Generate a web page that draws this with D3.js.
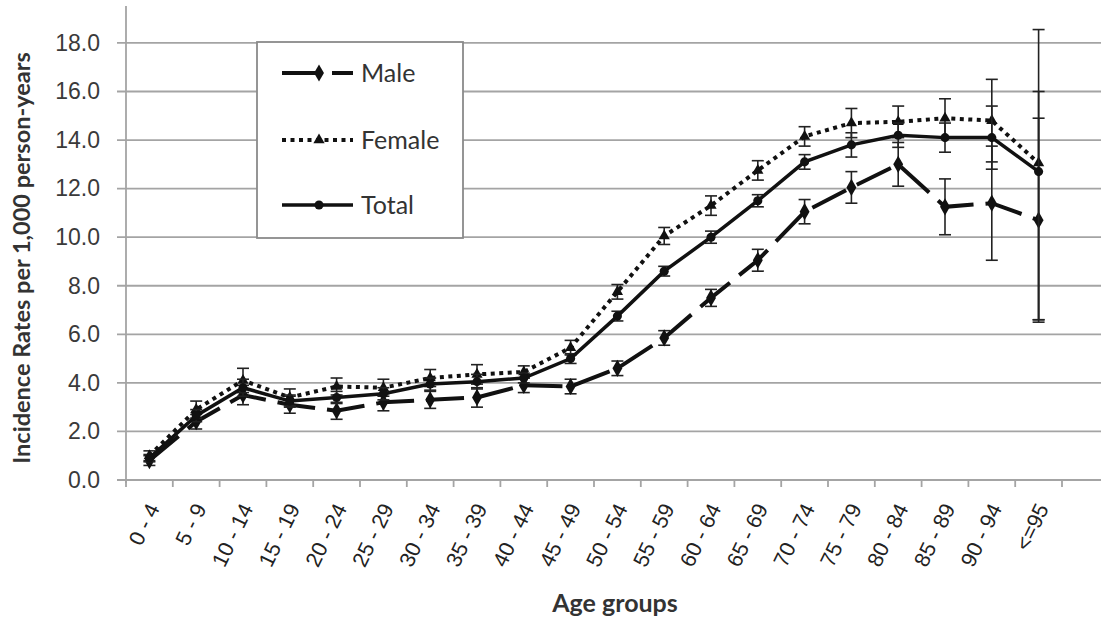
<!DOCTYPE html>
<html>
<head>
<meta charset="utf-8">
<script src="https://cdn.jsdelivr.net/npm/d3@7"></script>
<style>
  body { margin: 0; background: #fff; }
  svg { display: block; font-family: Lato, "Open Sans", sans-serif; }
</style>
</head>
<body>
<svg class="chart" width="1101" height="619"></svg>
<script>
const ageGroups = [`0 - 4`, `5 - 9`, `10 - 14`, `15 - 19`, `20 - 24`, `25 - 29`, `30 - 34`, `35 - 39`, `40 - 44`, `45 - 49`,
  `50 - 54`, `55 - 59`, `60 - 64`, `65 - 69`, `70 - 74`, `75 - 79`, `80 - 84`, `85 - 89`, `90 - 94`, `<=95`];

const maleRates = [0.8, 2.4, 3.5, 3.1, 2.85, 3.2, 3.3, 3.4, 3.9, 3.85, 4.6, 5.85, 7.5, 9.05, 11.05, 12.05, 13.0, 11.25, 11.4, 10.7];
const maleLow = [0.6, 2.1, 3.1, 2.75, 2.5, 2.85, 2.95, 3.0, 3.6, 3.55, 4.3, 5.55, 7.15, 8.6, 10.55, 11.4, 12.1, 10.1, 9.05, 6.5];
const maleHigh = [1.0, 2.7, 3.9, 3.45, 3.2, 3.55, 3.65, 3.8, 4.2, 4.15, 4.9, 6.15, 7.85, 9.5, 11.55, 12.7, 13.9, 12.4, 13.75, 14.9];

const femaleRates = [1.0, 2.9, 4.1, 3.4, 3.85, 3.8, 4.2, 4.35, 4.45, 5.45, 7.75, 10.05, 11.3, 12.75, 14.15, 14.7, 14.75, 14.9, 14.8, 13.05];
const femaleLow = [0.8, 2.55, 3.6, 3.05, 3.5, 3.45, 3.85, 3.95, 4.2, 5.15, 7.45, 9.7, 10.9, 12.35, 13.75, 14.1, 14.1, 14.1, 13.1, 6.6];
const femaleHigh = [1.2, 3.25, 4.6, 3.75, 4.2, 4.15, 4.55, 4.75, 4.7, 5.75, 8.05, 10.4, 11.7, 13.15, 14.55, 15.3, 15.4, 15.7, 16.5, 18.55];

const totalRates = [0.9, 2.65, 3.8, 3.25, 3.4, 3.55, 3.95, 4.05, 4.2, 5.0, 6.75, 8.6, 10.0, 11.5, 13.1, 13.8, 14.2, 14.1, 14.1, 12.7];
const totalLow = [0.75, 2.4, 3.45, 3.0, 3.15, 3.3, 3.7, 3.75, 4.0, 4.8, 6.55, 8.4, 9.75, 11.25, 12.8, 13.3, 13.7, 13.5, 12.8, 6.6];
const totalHigh = [1.05, 2.9, 4.15, 3.5, 3.65, 3.8, 4.2, 4.35, 4.4, 5.2, 6.95, 8.8, 10.25, 11.75, 13.4, 14.3, 14.7, 14.7, 15.4, 16.0];

const yTicks = [0, 2, 4, 6, 8, 10, 12, 14, 16, 18];

const seriesNames = [`Male`, `Female`, `Total`];

const svg = d3.select(`.chart`);

const left = 126;
const right = 1101;
const step = 46.8;

const x = d3.scaleBand()
  .domain(ageGroups)
  .range([left, left + ageGroups.length * step]);

const y = d3.scaleLinear()
  .domain([0, 19.5])
  .range([480, 6.5]);

const cx = d => x(d) + x.bandwidth() / 2;

// gridlines
svg.append(`g`)
  .selectAll(`line`)
    .data(yTicks)
  .enter().append(`line`)
    .attr(`x1`, left - 9)
    .attr(`x2`, right)
    .attr(`y1`, d => y(d))
    .attr(`y2`, d => y(d))
    .style(`stroke`, `#a4a4a4`)
    .style(`stroke-width`, 1.8);

// y axis
const yAxis = svg.append(`g`)
  .attr(`transform`, `translate(${left},0)`)
  .call(d3.axisLeft(y).tickValues(yTicks).tickFormat(d3.format(`.1f`)).tickSize(0).tickPadding(26));
yAxis.select(`.domain`).remove();
yAxis.selectAll(`text`)
  .style(`font-size`, `23px`)
  .style(`fill`, `#3a3a3a`)
  .attr(`font-family`, null);

svg.append(`line`)
  .attr(`x1`, left).attr(`x2`, left)
  .attr(`y1`, 6).attr(`y2`, y(0) + 3)
  .style(`stroke`, `#a4a4a4`)
  .style(`stroke-width`, 1.8);

// x axis
svg.append(`g`)
  .selectAll(`line`)
    .data(d3.range(ageGroups.length + 1))
  .enter().append(`line`)
    .attr(`x1`, d => left + d * step)
    .attr(`x2`, d => left + d * step)
    .attr(`y1`, y(0))
    .attr(`y2`, y(0) + 7)
    .style(`stroke`, `#a4a4a4`)
    .style(`stroke-width`, 1.8);

const xAxis = svg.append(`g`)
  .attr(`transform`, `translate(0,${y(0)})`)
  .call(d3.axisBottom(x).tickSize(0));
xAxis.select(`.domain`).remove();
xAxis.selectAll(`text`)
  .attr(`y`, 0)
  .attr(`dy`, `0.35em`)
  .attr(`transform`, `translate(4,25) rotate(-64)`)
  .style(`text-anchor`, `end`)
  .style(`font-size`, `21.5px`)
  .style(`fill`, `#222`)
  .attr(`font-family`, null);

// axis titles
svg.append(`text`)
  .attr(`transform`, `translate(22,258) rotate(-90)`)
  .attr(`text-anchor`, `middle`)
  .attr(`dy`, `0.35em`)
  .style(`font-size`, `23.5px`)
  .style(`font-weight`, `bold`)
  .style(`fill`, `#333`)
  .text(`Incidence Rates per 1,000 person-years`);

svg.append(`text`)
  .attr(`x`, 615)
  .attr(`y`, 612)
  .attr(`text-anchor`, `middle`)
  .style(`font-size`, `25px`)
  .style(`font-weight`, `bold`)
  .style(`fill`, `#333`)
  .text(`Age groups`);

// series
const series = [
  {name: seriesNames[0], rates: maleRates, low: maleLow, high: maleHigh, dash: `38 12`, width: 4, symbol: d3.symbolDiamond, size: 85},
  {name: seriesNames[1], rates: femaleRates, low: femaleLow, high: femaleHigh, dash: `4 4.5`, width: 4, symbol: d3.symbolTriangle, size: 55},
  {name: seriesNames[2], rates: totalRates, low: totalLow, high: totalHigh, dash: null, width: 3.5, symbol: d3.symbolCircle, size: 65}
];

const line = d3.line()
  .x(d => cx(d.age))
  .y(d => y(d.v));

series.forEach(s => {
  const pts = ageGroups.map((age, i) => ({age, v: s.rates[i], lo: s.low[i], hi: s.high[i]}));
  const g = svg.append(`g`);

  // error bars
  const eb = g.selectAll(`.err`)
      .data(pts)
    .enter().append(`g`);
  eb.append(`line`)
    .attr(`x1`, d => cx(d.age)).attr(`x2`, d => cx(d.age))
    .attr(`y1`, d => y(d.lo)).attr(`y2`, d => y(d.hi))
    .style(`stroke`, `#222`).style(`stroke-width`, 1.6);
  [`lo`, `hi`].forEach(k => {
    eb.append(`line`)
      .attr(`x1`, d => cx(d.age) - 6).attr(`x2`, d => cx(d.age) + 6)
      .attr(`y1`, d => y(d[k])).attr(`y2`, d => y(d[k]))
      .style(`stroke`, `#222`).style(`stroke-width`, 1.6);
  });

  g.append(`path`)
    .datum(pts)
    .attr(`d`, line)
    .style(`fill`, `none`)
    .style(`stroke`, `#111`)
    .style(`stroke-width`, s.width)
    .style(`stroke-dasharray`, s.dash);

  g.selectAll(`.mark`)
      .data(pts)
    .enter().append(`path`)
      .attr(`transform`, d => `translate(${cx(d.age)},${y(d.v)})`)
      .attr(`d`, d3.symbol().type(s.symbol).size(s.size))
      .style(`fill`, `#111`);
});

// legend
const legend = svg.append(`g`);
legend.append(`rect`)
  .attr(`x`, 257).attr(`y`, 42)
  .attr(`width`, 206).attr(`height`, 196)
  .style(`fill`, `#fff`)
  .style(`stroke`, `#8a8a8a`)
  .style(`stroke-width`, 1.8);

const legendY = [73, 140, 205];
series.forEach((s, i) => {
  const ly = legendY[i];
  legend.append(`line`)
    .attr(`x1`, 282).attr(`x2`, 353)
    .attr(`y1`, ly).attr(`y2`, ly)
    .style(`stroke`, `#111`)
    .style(`stroke-width`, s.width)
    .style(`stroke-dasharray`, s.dash);
  legend.append(`path`)
    .attr(`transform`, `translate(319,${ly})`)
    .attr(`d`, d3.symbol().type(s.symbol).size(s.size))
    .style(`fill`, `#111`);
  legend.append(`text`)
    .attr(`x`, 361)
    .attr(`y`, ly)
    .attr(`dy`, `0.35em`)
    .style(`font-size`, `25px`)
    .style(`fill`, `#333`)
    .text(s.name);
});
</script>
</body>
</html>
